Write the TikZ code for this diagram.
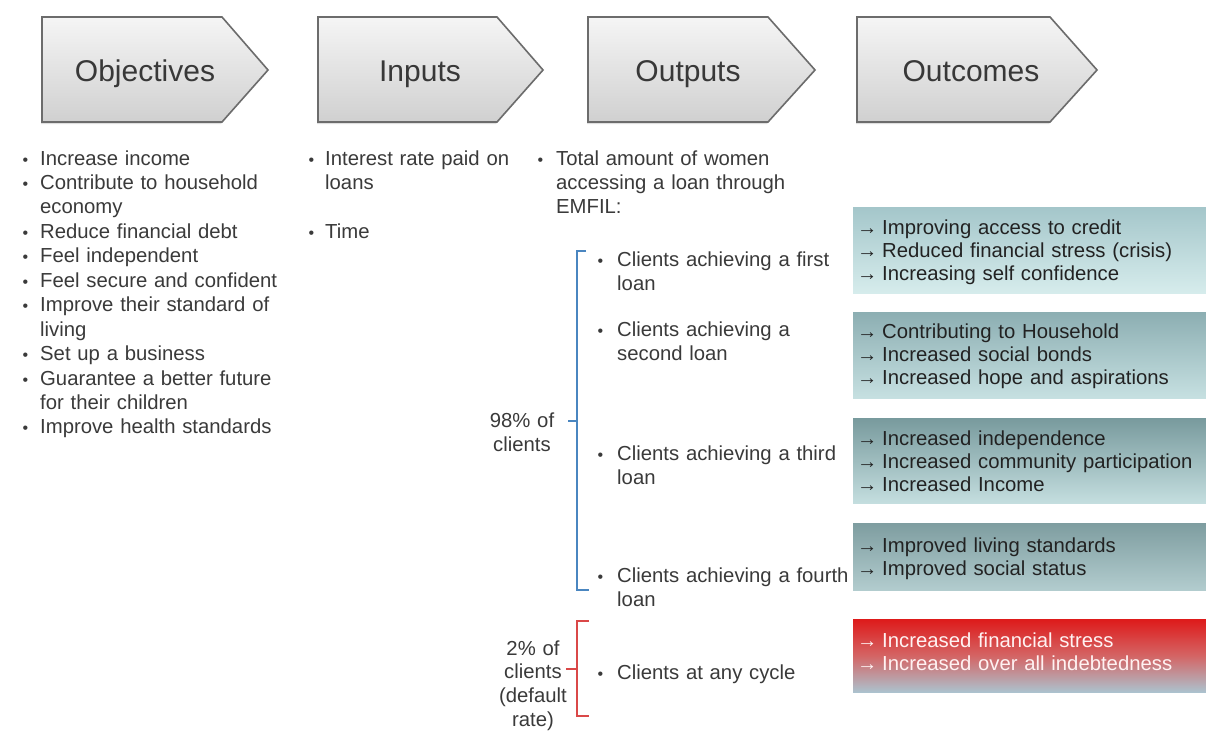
\documentclass[tikz,border=0pt]{standalone}
\usepackage{fontspec}
\setmainfont{Liberation Sans}
\usetikzlibrary{shadows}

\definecolor{hdrtop}{HTML}{F5F5F5}
\definecolor{hdrbot}{HTML}{D0D0D0}
\definecolor{hdrline}{HTML}{6C6C6C}
\definecolor{bodytext}{HTML}{3A3A3A}
\definecolor{boxtext}{HTML}{222222}
\definecolor{bracketblue}{HTML}{4A86C0}
\definecolor{bracketred}{HTML}{DA4848}
\definecolor{tealAtop}{HTML}{A4C6CA}
\definecolor{tealAbot}{HTML}{D6ECEC}
\definecolor{tealBtop}{HTML}{8CAEB2}
\definecolor{tealBbot}{HTML}{C6E0E1}
\definecolor{tealCtop}{HTML}{789A9D}
\definecolor{tealCbot}{HTML}{C4DEDF}
\definecolor{tealDtop}{HTML}{7E9DA0}
\definecolor{tealDbot}{HTML}{B2CCCE}
\definecolor{redtop}{HTML}{DE1A1A}
\definecolor{redmid}{HTML}{D46464}
\definecolor{redbot}{HTML}{ACC2CE}

\pgfdeclareverticalshading{riskfade}{100bp}{%
  color(0bp)=(redbot); color(25bp)=(redbot); color(50bp)=(redmid);
  color(75bp)=(redtop); color(100bp)=(redtop)}

\newcommand{\bodyfont}{\fontsize{20.3}{24.45}\selectfont}
\newcommand{\boxfont}{\fontsize{20.3}{23.4}\selectfont}
\newcommand{\blt}[1]{\leavevmode\llap{{\fontsize{16}{16}\selectfont\textbullet}\hspace{#1pt}}}
\newcommand{\arr}{\leavevmode\makebox[25pt][l]{→}}

\tikzset{
  hdrbox/.style={draw=hdrline, line width=1.6pt, line join=miter,
    top color=hdrtop, bottom color=hdrbot,
    drop shadow={shadow xshift=-1pt, shadow yshift=-2pt, opacity=0.25}},
  hdrtext/.style={font=\fontsize{30}{30}\selectfont, text=boxtext!90,
    inner sep=0pt, anchor=base},
  bodylist/.style={font=\bodyfont, text=bodytext, inner sep=0pt,
    anchor=base west, align=left, text width=290pt},
  sidelabel/.style={font=\bodyfont, text=bodytext, inner sep=0pt,
    anchor=base, align=center, text width=90pt},
  outbox/.style={draw=none},
  outtext/.style={font=\boxfont, text=boxtext, inner sep=0pt,
    anchor=base west, align=left, text width=340pt},
  bracketline/.style={line width=1.6pt},
}

\begin{document}
\begin{tikzpicture}[x=1pt, y=-1pt]
\useasboundingbox (0,0) rectangle (1206,731);
\fill[white] (0,0) rectangle (1206,731);

% ---- header chevrons ----
\path[hdrbox] (42,17) -- (222,17) -- (268,70) -- (222,122) -- (42,122) -- cycle;
\path[hdrbox] (318,17) -- (497,17) -- (543,70) -- (497,122) -- (318,122) -- cycle;
\path[hdrbox] (588,17) -- (768,17) -- (815,70) -- (768,122) -- (588,122) -- cycle;
\path[hdrbox] (857,17) -- (1050,17) -- (1097,70) -- (1050,122) -- (857,122) -- cycle;

\node[hdrtext] (objectives) at (145,81) {Objectives};
\node[hdrtext] (inputs) at (420,81) {Inputs};
\node[hdrtext] (outputs) at (688,81) {Outputs};
\node[hdrtext] (outcomes) at (971,81) {Outcomes};

% ---- objectives column ----
\node[bodylist] (objlist) at (40,165) {%
  \blt{12}Increase income\\
  \blt{12}Contribute to household\\
  economy\\
  \blt{12}Reduce financial debt\\
  \blt{12}Feel independent\\
  \blt{12}Feel secure and confident\\
  \blt{12}Improve their standard of\\
  living\\
  \blt{12}Set up a business\\
  \blt{12}Guarantee a better future\\
  for their children\\
  \blt{12}Improve health standards};

% ---- inputs column ----
\node[bodylist] (inplist) at (325,165) {%
  \blt{11}Interest rate paid on\\
  loans\\[24.45pt]
  \blt{11}Time};

% ---- outputs column ----
\node[bodylist] (outhead) at (556,165) {%
  \blt{13}Total amount of women\\
  accessing a loan through\\
  EMFIL:};

\node[bodylist] (loan1) at (617,266) {\blt{14}Clients achieving a first\\loan};
\node[bodylist] (loan2) at (617,336) {\blt{14}Clients achieving a\\second loan};
\node[bodylist] (loan3) at (617,460) {\blt{14}Clients achieving a third\\loan};
\node[bodylist] (loan4) at (617,582) {\blt{14}Clients achieving a fourth\\loan};
\node[bodylist] (loanany) at (617,679) {\blt{14}Clients at any cycle};

\node[sidelabel] (share98) at (522,427) {98\% of\\clients};
\node[sidelabel, font=\fontsize{20.3}{23.8}\selectfont] (share2) at (533,655)
  {2\% of\\clients\\(default\\rate)};

% ---- brackets ----
\coordinate (bT) at (586,251);
\coordinate (bTc) at (577,251);
\coordinate (bB) at (589,590);
\coordinate (bBc) at (577,590);
\coordinate (bM) at (577,421);
\coordinate (bMl) at (568,421);
\draw[bracketline, draw=bracketblue] (bT) -- (bTc) -- (bBc) -- (bB);
\draw[bracketline, draw=bracketblue] (bM) -- (bMl);

\coordinate (rT) at (589,621);
\coordinate (rTc) at (577,621);
\coordinate (rB) at (589,716);
\coordinate (rBc) at (577,716);
\coordinate (rM) at (577,669);
\coordinate (rMl) at (566,669);
\draw[bracketline, draw=bracketred] (rT) -- (rTc) -- (rBc) -- (rB);
\draw[bracketline, draw=bracketred] (rM) -- (rMl);

% ---- outcome bands ----
\path[outbox, top color=tealAtop, bottom color=tealAbot] (853,207) rectangle (1206,293);
\path[outbox, top color=tealBtop, bottom color=tealBbot] (853,312) rectangle (1206,398);
\path[outbox, top color=tealCtop, bottom color=tealCbot] (853,418) rectangle (1206,503);
\path[outbox, top color=tealDtop, bottom color=tealDbot] (853,523) rectangle (1206,590);
\path[outbox, shading=riskfade] (853,619) rectangle (1206,692);

\node[outtext] (out1) at (857,234) {%
  \arr Improving access to credit\\
  \arr Reduced financial stress (crisis)\\
  \arr Increasing self confidence};
\node[outtext] (out2) at (857,338) {%
  \arr Contributing to Household\\
  \arr Increased social bonds\\
  \arr Increased hope and aspirations};
\node[outtext] (out3) at (857,445) {%
  \arr Increased independence\\
  \arr Increased community participation\\
  \arr Increased Income};
\node[outtext] (out4) at (857,552) {%
  \arr Improved living standards\\
  \arr Improved social status};
\node[outtext, text=white!95!red] (out5) at (857,647) {%
  \arr Increased financial stress\\
  \arr Increased over all indebtedness};
\end{tikzpicture}
\end{document}
